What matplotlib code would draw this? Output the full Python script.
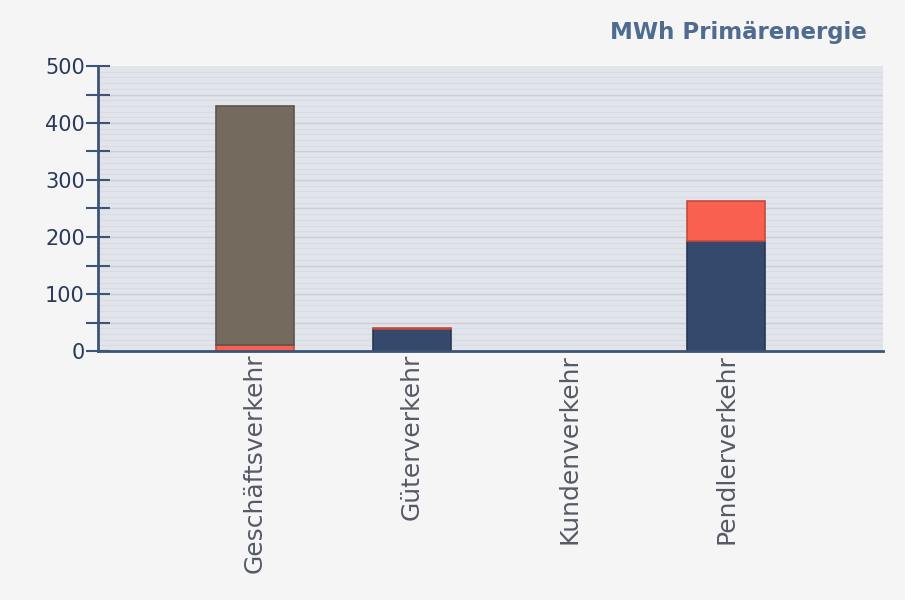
import matplotlib.pyplot as plt
import numpy as np

categories = ['Geschäftsverkehr', 'Güterverkehr', 'Kundenverkehr', 'Pendlerverkehr']
navy_vals = [0, 39, 0, 193]
red_vals = [10, 0.8, 0, 70]
brown_vals = [420, 0, 0, 0]

fig = plt.figure(figsize=(9.05, 6), dpi=100, facecolor='#f5f5f5')
ax = fig.add_axes([98 / 905, 1 - 351 / 600, (883 - 98) / 905, (351 - 66) / 600])
ax.set_facecolor('#e1e4ea')

x = np.arange(1, len(categories) + 1)
navy = np.array(navy_vals)
red = np.array(red_vals)
brown = np.array(brown_vals)
w = 0.5

# faint stripes plus slightly darker lines at each tick
for yv in range(10, 500, 10):
    ax.axhline(yv, color='#d8dbe1', lw=0.8, zorder=0)
for yv in range(50, 500, 50):
    ax.axhline(yv, color='#cacfd6', lw=1.0, zorder=0)

def stack(vals, bottom, fc, ec):
    m = vals > 0
    ax.bar(x[m], vals[m], w, bottom=bottom[m], color=fc, edgecolor=ec,
           linewidth=1.2, zorder=3)

stack(navy, np.zeros(4), '#34496b', '#2a3850')
stack(red, navy, '#f9604f', '#c24c3f')
stack(brown, navy + red, '#756a5e', '#5c544c')

ax.set_xlim(0, 5)
ax.set_ylim(0, 500)
ax.set_yticks(range(0, 501, 100))
ax.set_yticks(range(50, 500, 100), minor=True)
ax.tick_params(axis='y', which='both', direction='inout', length=17, width=1.5,
               color='#3e5476', labelsize=15, labelcolor='#2a3a5a', pad=1)
ax.set_xticks(x)
ax.set_xticklabels(categories, rotation=90, fontsize=18, color='#555a66')
ax.tick_params(axis='x', length=0, pad=2)

for s in ['top', 'right']:
    ax.spines[s].set_visible(False)
for s in ['left', 'bottom']:
    ax.spines[s].set_color('#3e5476')
    ax.spines[s].set_linewidth(2)
ax.spines['bottom'].set_zorder(4)

fig.text(867 / 905, 1 - 32 / 600, 'MWh Primärenergie', ha='right', va='center',
         fontsize=16.5, fontweight='bold', color='#4f6b8f')

fig.savefig('out.png', dpi=100, facecolor=fig.get_facecolor())
